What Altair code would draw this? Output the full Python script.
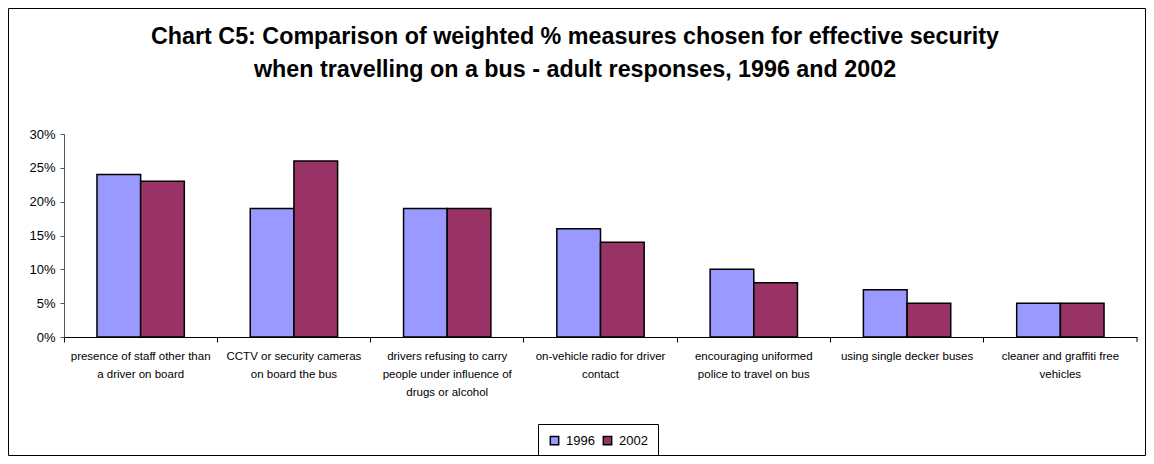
import altair as alt
import pandas as pd

categories = [
    "presence of staff other than|a driver on board",
    "CCTV or security cameras|on board the bus",
    "drivers refusing to carry|people under influence of|drugs or alcohol",
    "on-vehicle radio for driver|contact",
    "encouraging uniformed|police to travel on bus",
    "using single decker buses",
    "cleaner and graffiti free|vehicles",
]
values_1996 = [0.24, 0.19, 0.19, 0.16, 0.10, 0.07, 0.05]
values_2002 = [0.23, 0.26, 0.19, 0.14, 0.08, 0.05, 0.05]
years = ["1996", "2002"]
colors = ["#9999FF", "#993366"]
title_text = (
    "Chart C5: Comparison of weighted % measures chosen for effective security\n"
    "when travelling on a bus - adult responses, 1996 and 2002"
)

rows = []
for c, a, b in zip(categories, values_1996, values_2002):
    rows.append({"measure": c, "year": "1996", "value": a})
    rows.append({"measure": c, "year": "2002", "value": b})
df = pd.DataFrame(rows)

W, H = 1073, 203
PL, PT, PR, PB = 56, 126, 9, 119

bars = alt.Chart(df).mark_bar(stroke="black", strokeWidth=1.5).encode(
    x=alt.X(
        "measure:N",
        sort=categories,
        scale=alt.Scale(paddingInner=0, paddingOuter=0),
        axis=alt.Axis(
            title=None,
            labelAngle=0,
            bandPosition=0,
            labelExpr="split(datum.label, '|')",
            labelFont="Liberation Sans",
            labelFontSize=11.5,
            labelLineHeight=18,
            labelColor="black",
            labelPadding=8,
            labelBaseline="top",
            tickSize=5,
            tickColor="black",
            domainColor="black",
            labelLimit=200,
        ),
    ),
    xOffset=alt.XOffset(
        "year:N",
        scale=alt.Scale(paddingOuter=0.755, paddingInner=0),
    ),
    y=alt.Y(
        "value:Q",
        scale=alt.Scale(domain=[0, 0.3]),
        axis=alt.Axis(
            title=None,
            values=[0, 0.05, 0.10, 0.15, 0.20, 0.25, 0.30],
            format=".0%",
            grid=False,
            labelFont="Liberation Sans",
            labelFontSize=13,
            labelColor="black",
            labelPadding=5,
            tickSize=4,
            tickColor="#555555",
            domainColor="#555555",
        ),
    ),
    color=alt.Color(
        "year:N",
        scale=alt.Scale(domain=years, range=colors),
        legend=alt.Legend(
            title=None,
            orient="none",
            legendX=474,
            legendY=290,
            direction="horizontal",
            symbolType="square",
            symbolSize=70,
            symbolStrokeColor="black",
            symbolStrokeWidth=1.5,
            labelFont="Liberation Sans",
            labelFontSize=13,
            labelColor="black",
            strokeColor="black",
            padding=10,
            columnPadding=5,
            labelOffset=5,
        ),
    ),
)

title = alt.Chart(pd.DataFrame({"k": [0]})).mark_text(
    font="Liberation Sans",
    fontSize=23.3,
    fontWeight="bold",
    lineHeight=33,
    lineBreak="\n",
    align="center",
    baseline="middle",
    color="black",
).encode(
    text=alt.value(title_text),
    x=alt.value(511),
    y=alt.value(-97),
)

end_tick = alt.Chart(pd.DataFrame({"k": [0]})).mark_rule(color="black").encode(
    x=alt.value(W), y=alt.value(H), y2=alt.value(H + 5)
)

border = alt.Chart(pd.DataFrame({"k": [0]})).mark_rect(
    fill=None, stroke="black", strokeWidth=1
).encode(
    x=alt.value(-PL + 0.5), x2=alt.value(W + PR - 0.5),
    y=alt.value(-PT + 0.5), y2=alt.value(H + PB - 0.5),
)

chart = alt.layer(bars, title, end_tick, border).properties(
    width=W,
    height=H,
    autosize=alt.AutoSizeParams(type="none"),
    padding={"left": PL, "top": PT, "right": PR, "bottom": PB},
).configure_view(stroke=None)

chart.save("out.html", embed_options={"renderer": "svg", "actions": False})
